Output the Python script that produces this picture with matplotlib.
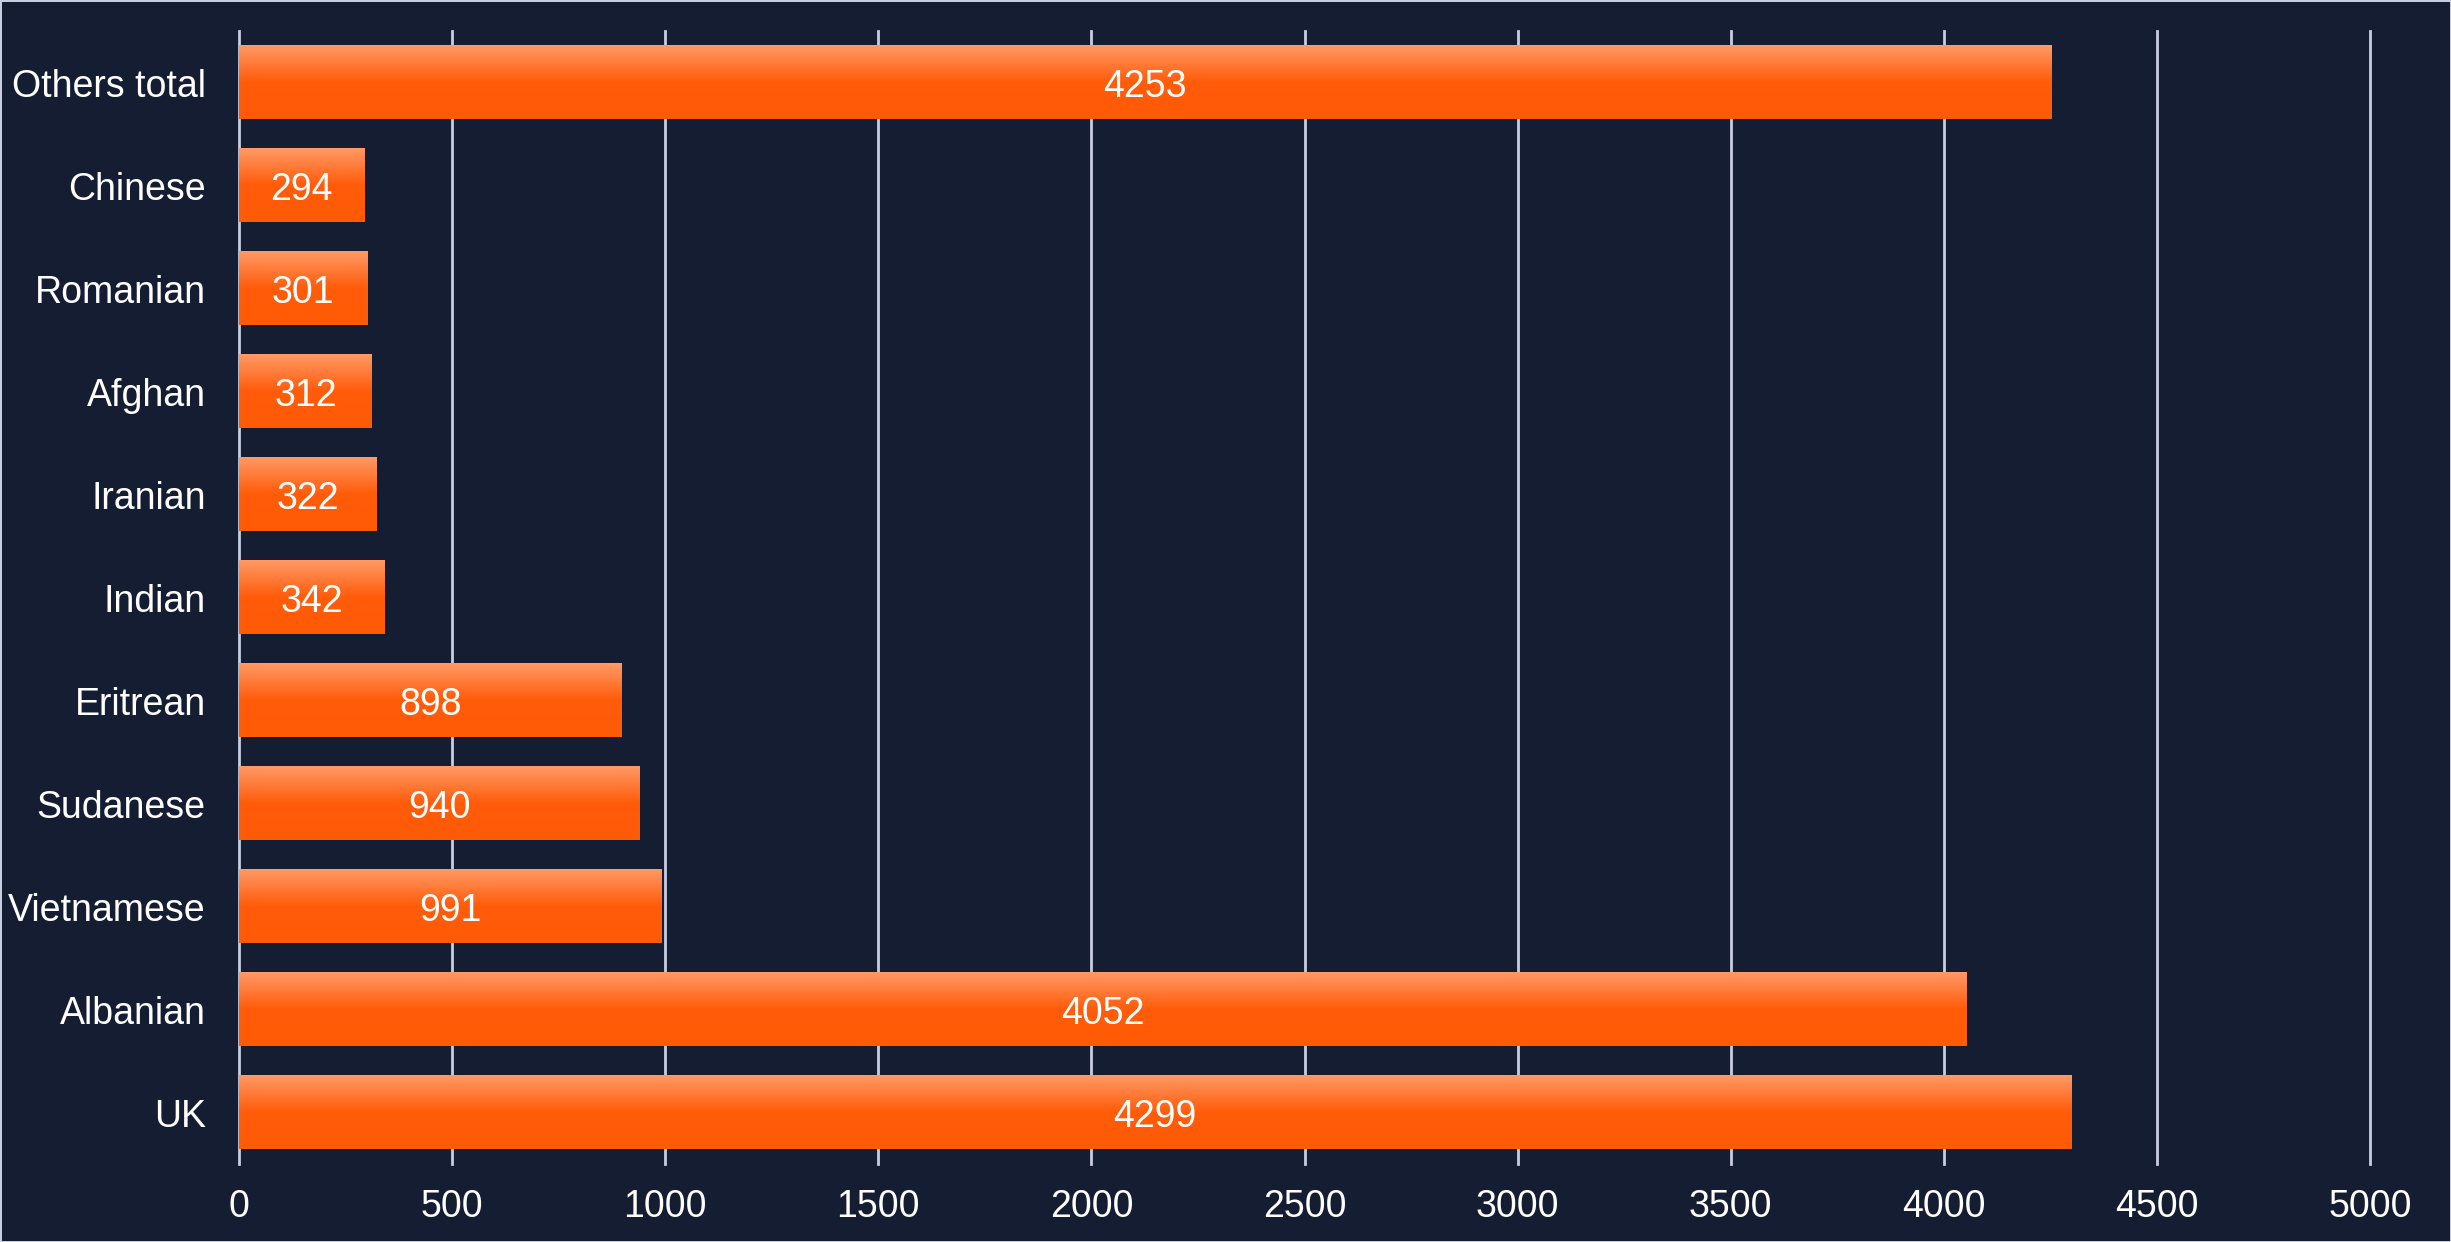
import numpy as np
import matplotlib
matplotlib.use("Agg")
import matplotlib.pyplot as plt
from matplotlib.colors import LinearSegmentedColormap

# data, bottom to top
categories = ["UK", "Albanian", "Vietnamese", "Sudanese", "Eritrean", "Indian",
              "Iranian", "Afghan", "Romanian", "Chinese", "Others total"]
values = [4299, 4052, 991, 940, 898, 342, 322, 312, 301, 294, 4253]
xticks = [0, 500, 1000, 1500, 2000, 2500, 3000, 3500, 4000, 4500, 5000]

bg = "#151d33"
grid_col = "#c9cde0"
plt.rcParams["font.family"] = ["Liberation Sans", "DejaVu Sans"]

fig = plt.figure(figsize=(24.51, 12.42), dpi=100, facecolor=bg,
                 edgecolor=grid_col, linewidth=2)
ax = fig.add_axes([0.0975, 0.0628, 0.8695, 0.9122])
ax.set_facecolor(bg)

# vertical gradient: light orange at top, solid orange below middle
cmap = LinearSegmentedColormap.from_list(
    "bar", [(0.0, "#ff5a05"), (0.5, "#ff5c0a"), (1.0, "#ff9a66")])
grad = np.linspace(0, 1, 256).reshape(-1, 1)

h = 0.71
for i, (cat, v) in enumerate(zip(categories, values)):
    ax.imshow(grad, cmap=cmap, aspect="auto", origin="lower",
              extent=(0, v, i - h / 2, i + h / 2), zorder=3,
              interpolation="bilinear")
    ax.text(v / 2, i, str(v), color="white", fontsize=27,
            ha="center", va="center_baseline", zorder=4)

ax.set_xlim(0, 5000)
ax.set_ylim(-0.5, len(categories) - 0.5)
ax.set_xticks(xticks)
ax.set_yticks(range(len(categories)))
ax.set_yticklabels(categories)
ax.tick_params(axis="both", length=0, labelsize=27, colors="white")
ax.tick_params(axis="y", pad=24)
ax.tick_params(axis="x", pad=18)
for t in xticks:
    ax.axvline(t, color=grid_col, linewidth=2, zorder=1, clip_on=False)
for s in ax.spines.values():
    s.set_visible(False)

fig.savefig("out.png", dpi=100, facecolor=bg, edgecolor=grid_col)
